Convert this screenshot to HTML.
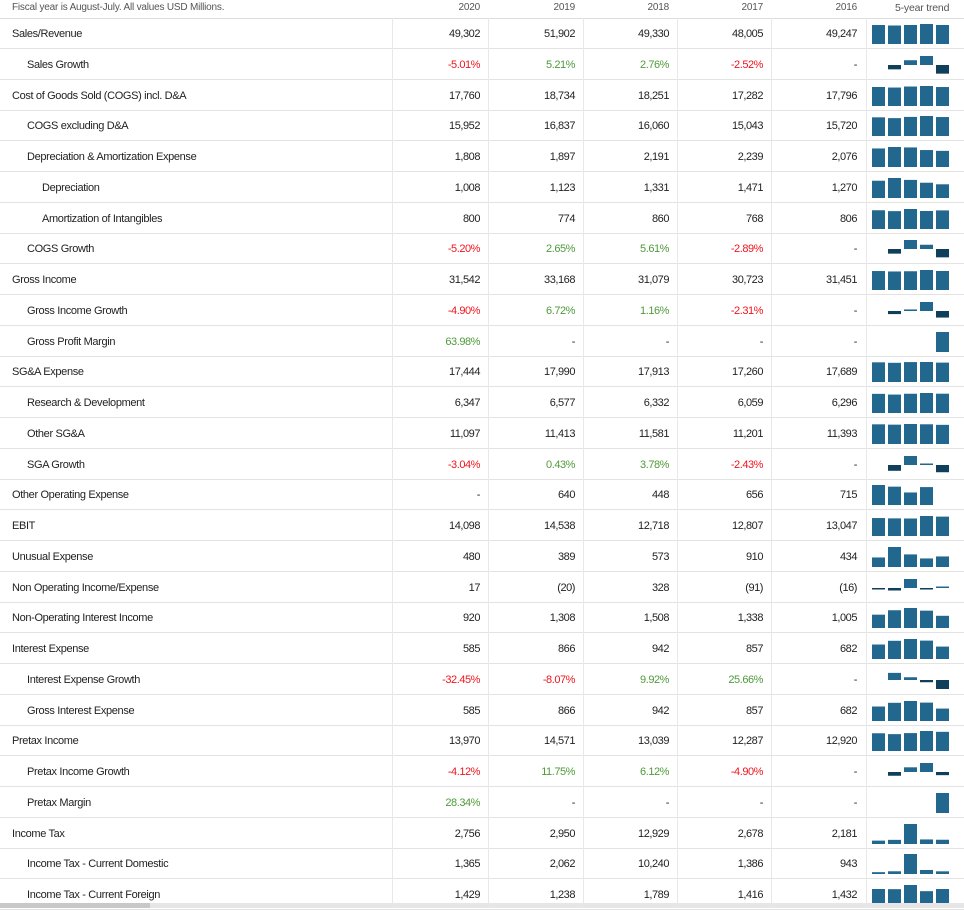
<!DOCTYPE html>
<html><head><meta charset="utf-8">
<style>
body{margin:0;width:964px;height:908px;overflow:hidden;background:#fff;font-family:"Liberation Sans",sans-serif;color:#222;}
#wrap{position:relative;width:964px;height:908px;}
.hdr{position:absolute;top:0;height:18px;border-bottom:1px solid #ddd;width:964px;}
.ht{position:absolute;top:2px;font-size:10px;color:#555;letter-spacing:-0.2px;}
.row{position:absolute;left:0;width:964px;height:30px;border-bottom:1.5px solid #e3e3e3;}
.lbl{position:absolute;top:10px;font-size:11px;letter-spacing:-0.35px;white-space:nowrap;}
.val{position:absolute;top:10px;font-size:11px;letter-spacing:-0.45px;text-align:right;width:80px;}
.vs{position:absolute;top:18px;width:1px;height:890px;background:#e8e8e8;}
.neg{color:#f0141e}.pos{color:#4f9a3a}
#sb{position:absolute;left:0;top:903px;width:964px;height:5px;background:#e6e6e6;}
#sbt{position:absolute;left:0;top:903px;width:150px;height:5px;background:#c8c8c8;}
</style></head><body>
<div id="wrap">
<div class="hdr">
<span class="ht" style="left:12px">Fiscal year is August-July. All values USD Millions.</span>
<span class="ht" style="left:400px;width:80px;text-align:right">2020</span>
<span class="ht" style="left:495px;width:80px;text-align:right">2019</span>
<span class="ht" style="left:589px;width:80px;text-align:right">2018</span>
<span class="ht" style="left:683px;width:80px;text-align:right">2017</span>
<span class="ht" style="left:777px;width:80px;text-align:right">2016</span>
<span class="ht" style="left:895px;font-size:10.5px">5-year trend</span>
</div>
<div id="rows"></div>
<div id="sb"></div>
<div id="sbt"></div>
</div>
<script>
// values ordered 2020, 2019, 2018, 2017, 2016 ; null = "-"
const labels=["Sales/Revenue","Sales Growth","Cost of Goods Sold (COGS) incl. D&A","COGS excluding D&A","Depreciation & Amortization Expense","Depreciation","Amortization of Intangibles","COGS Growth","Gross Income","Gross Income Growth","Gross Profit Margin","SG&A Expense","Research & Development","Other SG&A","SGA Growth","Other Operating Expense","EBIT","Unusual Expense","Non Operating Income/Expense","Non-Operating Interest Income","Interest Expense","Interest Expense Growth","Gross Interest Expense","Pretax Income","Pretax Income Growth","Pretax Margin","Income Tax","Income Tax - Current Domestic","Income Tax - Current Foreign"];
const indents=[0,1,0,1,1,2,2,1,0,1,1,0,1,1,1,0,0,0,0,0,0,1,1,0,1,1,0,1,1];
const isPct=[0,1,0,0,0,0,0,1,0,1,1,0,0,0,1,0,0,0,0,0,0,1,0,0,1,1,0,0,0];
const values=[
[49302,51902,49330,48005,49247],
[-5.01,5.21,2.76,-2.52,null],
[17760,18734,18251,17282,17796],
[15952,16837,16060,15043,15720],
[1808,1897,2191,2239,2076],
[1008,1123,1331,1471,1270],
[800,774,860,768,806],
[-5.20,2.65,5.61,-2.89,null],
[31542,33168,31079,30723,31451],
[-4.90,6.72,1.16,-2.31,null],
[63.98,null,null,null,null],
[17444,17990,17913,17260,17689],
[6347,6577,6332,6059,6296],
[11097,11413,11581,11201,11393],
[-3.04,0.43,3.78,-2.43,null],
[null,640,448,656,715],
[14098,14538,12718,12807,13047],
[480,389,573,910,434],
[17,-20,328,-91,-16],
[920,1308,1508,1338,1005],
[585,866,942,857,682],
[-32.45,-8.07,9.92,25.66,null],
[585,866,942,857,682],
[13970,14571,13039,12287,12920],
[-4.12,11.75,6.12,-4.90,null],
[28.34,null,null,null,null],
[2756,2950,12929,2678,2181],
[1365,2062,10240,1386,943],
[1429,1238,1789,1416,1432]
];
const rowsEl=document.getElementById('rows');
const ROW0=18, RH=30.75;
const colRight=[480,575,669,763,857];
const seps=[392,488,583,677,771,866];
seps.forEach((x,i)=>{const s=document.createElement('div');s.className='vs';s.style.left=x+'px';


document.getElementById('wrap').appendChild(s);});
function fmt(v,pct){
  if(v===null)return '-';
  if(pct)return v.toFixed(2)+'%';
  const a=Math.abs(v).toLocaleString('en-US');
  return v<0?'('+a+')':a;
}
labels.forEach((lab,r)=>{
  const top=ROW0+r*RH;
  const row=document.createElement('div');row.className='row';row.style.top=top+'px';
  
  
  const l=document.createElement('span');l.className='lbl';l.style.left=(12+indents[r]*15)+'px';l.textContent=lab;
  
  
  row.appendChild(l);
  values[r].forEach((v,c)=>{
    const s=document.createElement('span');s.className='val';s.style.left=(colRight[c]-80)+'px';
    if(isPct[r]&&v!==null)s.className+=v<0?' neg':' pos';
    s.textContent=fmt(v,isPct[r]);
    
    
    row.appendChild(s);
  });
  const ns='http://www.w3.org/2000/svg';
  const svg=document.createElementNS(ns,'svg');
  svg.setAttribute('width','96');svg.setAttribute('height','30');
  svg.style.position='absolute';svg.style.left='867px';svg.style.top='0';
  
  
  const vals=values[r].slice().reverse();
  const nn=vals.filter(v=>v!==null);
  const hasNeg=nn.some(v=>v<0);
  const maxAbs=Math.max(...nn.map(Math.abs));
  vals.forEach((v,i)=>{
    if(v===null)return;
    const x=5+16*i;
    let y,h,col='#21678e';
    if(hasNeg){
      const base=16;h=Math.max(1.5,Math.abs(v)/maxAbs*9);
      if(v>=0){y=base-h;}else{y=base;col='#0f3f5a';}
    }else{
      h=Math.max(1.5,v/maxAbs*20);y=26-h;
    }
    const rc=document.createElementNS(ns,'rect');
    rc.setAttribute('x',x);rc.setAttribute('y',y.toFixed(2));rc.setAttribute('width','13');rc.setAttribute('height',h.toFixed(2));rc.setAttribute('fill',col);
    
    
    svg.appendChild(rc);
  });
  row.appendChild(svg);
  rowsEl.appendChild(row);
});
</script>
</body></html>
